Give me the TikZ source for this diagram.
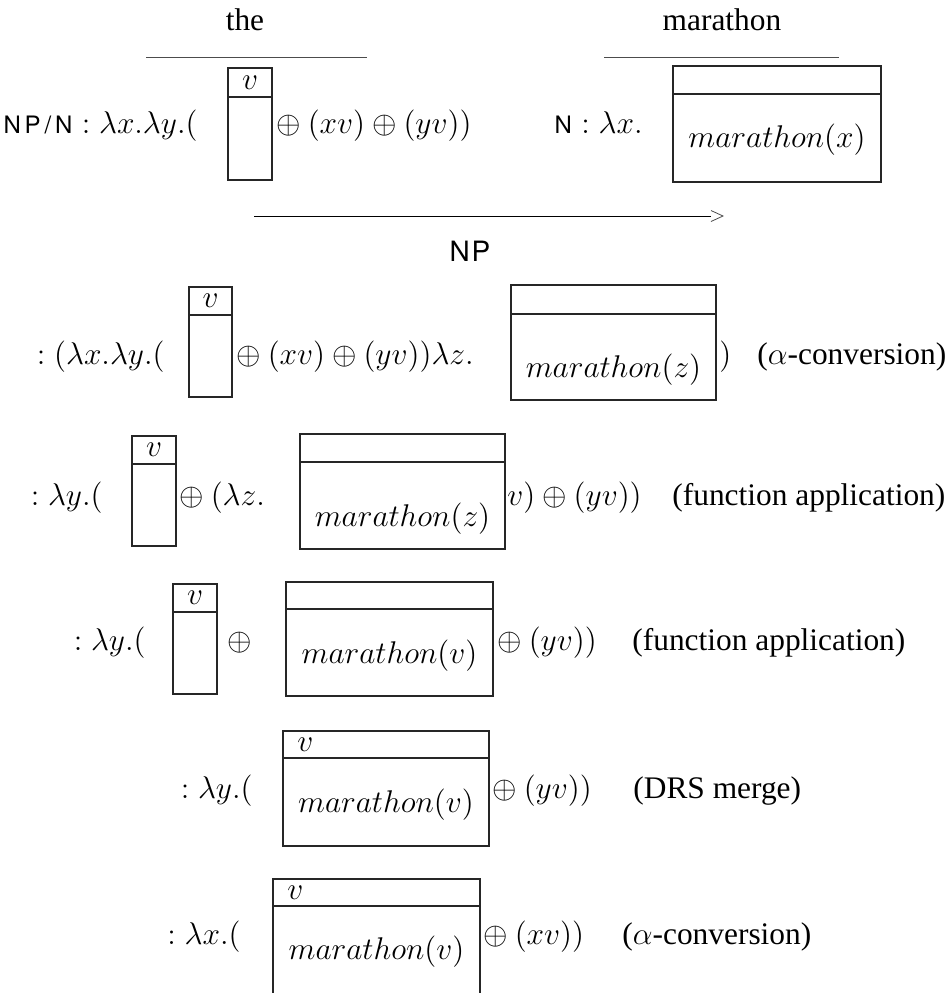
\RequirePackage{fix-cm}
\documentclass[tikz,border=0pt]{standalone}
\usepackage{fontspec}
\newfontfamily\serifrm{Liberation Serif}
\newfontfamily\catsf[LetterSpace=16]{TeX Gyre Heros}
\newfontfamily\catsfnarrow[LetterSpace=6]{TeX Gyre Heros}
\usetikzlibrary{fit,calc}

\newcommand\cat[1]{{\fontsize{12}{14}\catsf #1}}
\newcommand\bigcat[1]{{\fontsize{14}{17}\catsfnarrow #1}}

\tikzset{
  every node/.style={inner sep=0pt, font=\fontsize{15.7}{19}\selectfont},
  txt/.style={anchor=base west},
  txtr/.style={anchor=base east},
  lbl/.style={anchor=base west, font=\fontsize{15.7}{18}\selectfont\serifrm},
  drsframe/.style={draw=black!85, line width=0.6pt},
  drsline/.style={draw=black!85, line width=0.6pt},
  rulebar/.style={draw=black!70, line width=0.5pt},
  appline/.style={draw=black, line width=0.5pt},
  chevron/.style={draw=black!70, line width=0.4pt},
}

% DRS box: name, x1, y1, x2, y2, divider y, body condition, body shift
\newcommand\drs[8]{%
  \node[drsframe, fit={(#2,#3) (#4,#5)}] (#1) {};
  \coordinate (#1-dl) at (#2,#6);
  \coordinate (#1-dr) at (#4,#6);
  \draw[drsline] (#1-dl) -- (#1-dr);
  \coordinate (#1-hd) at ($(#2,#3)!0.5!(#4,#6)$);
  \path (#1-hd -| #1-dl) ++(14,0) coordinate (#1-hl);
  \node (#1-body) at ($(#2,#6)!0.5!(#4,#5)+(0,#8)$) {#7};
}

\begin{document}
\begin{tikzpicture}[x=0.5pt, y=-0.5pt]
\useasboundingbox (0,0) rectangle (952,993);

% ---- lexical entries ----
\node[lbl, anchor=base] (the) at (245,30) {the};
\node[lbl, anchor=base] (mar) at (722,30) {marathon};
\coordinate (the-l) at (146,57);  \coordinate (the-r) at (367,57);
\coordinate (mar-l) at (604,57);  \coordinate (mar-r) at (839,57);
\draw[rulebar] (the-l) -- (the-r);
\draw[rulebar] (mar-l) -- (mar-r);

\node[txtr] (det) at (198,133) {\cat{NP/N} $:\lambda x.\lambda y.($};
\drs{d1}{228}{68}{272}{180}{97}{}{0}
\node at (d1-hd) {$v$};
\node[txt] (det-r) at (269,133) {${}\oplus(xv)\oplus(yv))$};

\node[txtr] (noun) at (643,133) {\cat{N} $:\lambda x.$};
\drs{n1}{673}{66}{881}{182}{94}{$marathon(x)$}{2}

% ---- forward application ----
\coordinate (app-s) at (254,216);
\coordinate (app-e) at (711,216);
\draw[appline] (app-s) -- (app-e);
\draw[chevron] ($(app-e)+(0,-5.5)$) -- ++(12,5.5) -- ++(-12,5.5);
\node[anchor=base] (np) at (470,261) {\bigcat{NP}};

% ---- derivation steps ----
% alpha-conversion
\node[txtr] (s1) at (165,364) {$:(\lambda x.\lambda y.($};
\drs{d2}{189}{287}{232}{397}{315}{}{0}
\node at (d2-hd) {$v$};
\node[txt] (s1b) at (229,364) {${}\oplus(xv)\oplus(yv))\lambda z.$};
\drs{n2}{511}{285}{716}{400}{314}{$marathon(z)$}{13}
\node[txt] (s1c) at (719,364) {$)$};
\node[lbl] (r1) at (757,364) {($\alpha$-conversion)};

% function application
\node[txtr] (s2) at (103,505) {$:\lambda y.($};
\drs{d3}{132}{436}{176}{546}{464}{}{0}
\node at (d3-hd) {$v$};
\node[txt] (s2b) at (172,505) {${}\oplus(\lambda z.$};
\drs{n3}{300}{434}{505}{549}{462}{$marathon(z)$}{13}
\node[txt] (s2c) at (507,505) {$v)\oplus(yv))$};
\node[lbl] (r2) at (672,505) {(function application)};

% function application
\node[txtr] (s3) at (146,650) {$:\lambda y.($};
\drs{d4}{173}{584}{217}{694}{612}{}{0}
\node at (d4-hd) {$v$};
\node[txt] (s3b) at (227,650) {$\oplus$};
\drs{n4}{286}{582}{493}{696}{609}{$marathon(v)$}{3}
\node[txt] (s3c) at (490,650) {${}\oplus(yv))$};
\node[lbl] (r3) at (632,650) {(function application)};

% DRS merge
\node[txtr] (s4) at (253,798) {$:\lambda y.($};
\drs{m5}{283}{731}{489}{846}{758}{$marathon(v)$}{3}
\node[anchor=west] at (m5-hl) {$v$};
\node[txt] (s4b) at (485,798) {${}\oplus(yv))$};
\node[lbl] (r4) at (633,798) {(DRS merge)};

% alpha-conversion
\node[txtr] (s5) at (241,944) {$:\lambda x.($};
\drs{m6}{273}{879}{480}{994}{906}{$marathon(v)$}{2}
\node[anchor=west] at (m6-hl) {$v$};
\node[txt] (s5b) at (476,944) {${}\oplus(xv))$};
\node[lbl] (r5) at (622,944) {($\alpha$-conversion)};
\end{tikzpicture}
\end{document}
